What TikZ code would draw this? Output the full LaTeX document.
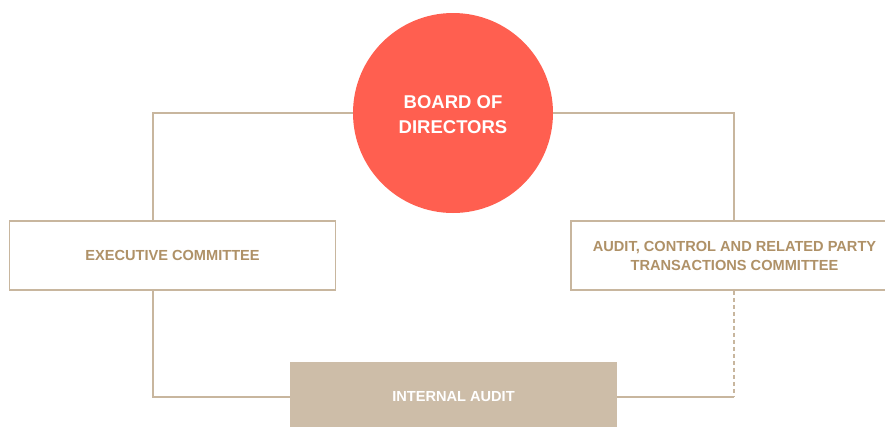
\documentclass[tikz,border=0pt]{standalone}
\usepackage{fontspec}
\setmainfont{Liberation Sans}
\definecolor{lineC}{HTML}{C8B69E}
\definecolor{textC}{HTML}{AF9167}
\definecolor{redC}{HTML}{FF5F50}
\definecolor{fillC}{HTML}{CDBDA8}
\begin{document}
\begin{tikzpicture}[x=1pt,y=-1pt,
  conn/.style={draw=lineC, line width=1.1pt},
  boxst/.style={draw=lineC, line width=1.5pt, fill=white, inner sep=0pt, font=\bfseries\fontsize{14.6}{19}\selectfont, text=textC, align=center},
  ]
\useasboundingbox (0,0) rectangle (885,426);
\clip (0,0) rectangle (885,426);
\node[circle, fill=redC, minimum size=200pt, inner sep=0pt, text=white, align=center, font=\bfseries\fontsize{18.5}{25}\selectfont] (bod) at (453,113) {};
\node[text=white, align=center, font=\bfseries\fontsize{18.5}{25}\selectfont] (bodtext) at (453,115) {BOARD OF\\DIRECTORS};
\node[boxst, minimum width=326pt, minimum height=69pt] (exec) at (172.5,255.5) {EXECUTIVE COMMITTEE};
\node[boxst, minimum width=327pt, minimum height=69pt] (acr) at (734.5,255.5) {AUDIT, CONTROL AND RELATED PARTY\\TRANSACTIONS COMMITTEE};
\node[fill=fillC, minimum width=327pt, minimum height=70pt, inner sep=0pt, text=white, font=\bfseries\fontsize{14.6}{19}\selectfont] (ia) at (453.5,397) {INTERNAL AUDIT};
\coordinate (tl) at (153,113);
\coordinate (tr) at (734,113);
\coordinate (bl) at (153,397);
\coordinate (br) at (734,397);
\draw[conn] (bod.west) -- (tl) -- (exec.north -| tl);
\draw[conn] (bod.east) -- (tr) -- (acr.north -| tr);
\draw[conn] (exec.south -| bl) -- (bl) -- (ia.west |- bl);
\draw[conn, dashed, dash pattern=on 4pt off 3pt] (acr.south -| br) -- (br);
\draw[conn] (br) -- (ia.east |- br);
\end{tikzpicture}
\end{document}
